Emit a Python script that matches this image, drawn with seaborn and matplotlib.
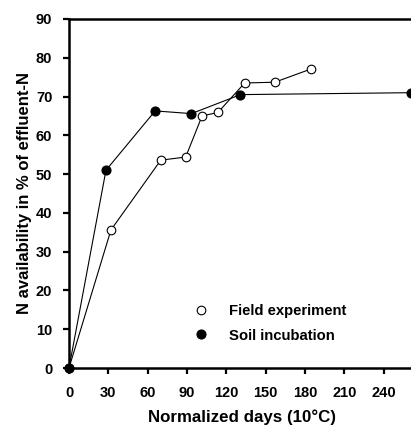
import matplotlib
matplotlib.use("Agg")
import matplotlib.pyplot as plt
import seaborn as sns
import pandas as pd
from matplotlib.lines import Line2D

field_days = [0, 32, 70, 89, 101.5, 113.6, 134, 157, 184.5]
field_n = [0, 35.6, 53.6, 54.4, 65.0, 65.9, 73.5, 73.7, 77.1]
soil_days = [0, 28.2, 65.7, 93.4, 130.8, 261]
soil_n = [0, 51.0, 66.3, 65.6, 70.5, 71.0]
x_ticks = [0, 30, 60, 90, 120, 150, 180, 210, 240]
y_ticks = [0, 10, 20, 30, 40, 50, 60, 70, 80, 90]
labels = ["Field experiment", "Soil incubation"]

sns.set_style("ticks")
plt.rcParams['font.family'] = ['Liberation Sans', 'DejaVu Sans']
plt.rcParams['font.weight'] = 'bold'
plt.rcParams['text.color'] = 'black'
plt.rcParams['axes.labelcolor'] = 'black'
plt.rcParams['xtick.color'] = 'black'
plt.rcParams['ytick.color'] = 'black'

fig = plt.figure(figsize=(4.11, 4.28), dpi=100)
ax = fig.add_axes([69/411, 60/428, 1 - 69/411 + 0.01, (368-19)/428])

df_f = pd.DataFrame({"d": field_days, "n": field_n})
df_s = pd.DataFrame({"d": soil_days, "n": soil_n})
sns.lineplot(data=df_f, x="d", y="n", ax=ax, color="black", lw=0.8,
             marker="o", markersize=6.2, markerfacecolor="white",
             markeredgecolor="black", markeredgewidth=0.8, zorder=3, clip_on=False)
sns.lineplot(data=df_s, x="d", y="n", ax=ax, color="black", lw=0.8,
             marker="o", markersize=6.5, markerfacecolor="black",
             markeredgecolor="black", markeredgewidth=0.8, zorder=4, clip_on=False)

ax.set_xlim(0, 264)
ax.set_ylim(0, 90)
ax.set_xticks(x_ticks)
ax.set_yticks(y_ticks)
ax.set_xticklabels([str(t) for t in x_ticks], fontsize=10.5, fontweight='bold')
ax.set_yticklabels([str(t) for t in y_ticks], fontsize=10.5, fontweight='bold')
ax.tick_params(axis='both', direction='out', length=4, width=1.6, colors='black')
ax.tick_params(axis='x', pad=9)
ax.tick_params(axis='y', pad=8)
ax.set_xlabel("Normalized days (10°C)", fontsize=12.2, fontweight='bold', labelpad=7)
ax.set_ylabel("N availability in % of effluent-N", fontsize=12, fontweight='bold', labelpad=3)

for s in ['left', 'bottom', 'top']:
    ax.spines[s].set_linewidth(1.8)
    ax.spines[s].set_color('black')
ax.spines['right'].set_visible(False)

handles = [
    Line2D([], [], ls='none', marker='o', ms=6.2, mfc='white', mec='black', mew=0.8),
    Line2D([], [], ls='none', marker='o', ms=6.5, mfc='black', mec='black', mew=0.8),
]
leg = ax.legend(handles, labels, loc='upper left', bbox_to_anchor=(0.30, 0.222),
                frameon=False, handletextpad=0.9, labelspacing=0.72,
                prop={'weight': 'bold', 'size': 10.7})
for t in leg.get_texts():
    t.set_color('black')

fig.savefig("out.png", dpi=100)
